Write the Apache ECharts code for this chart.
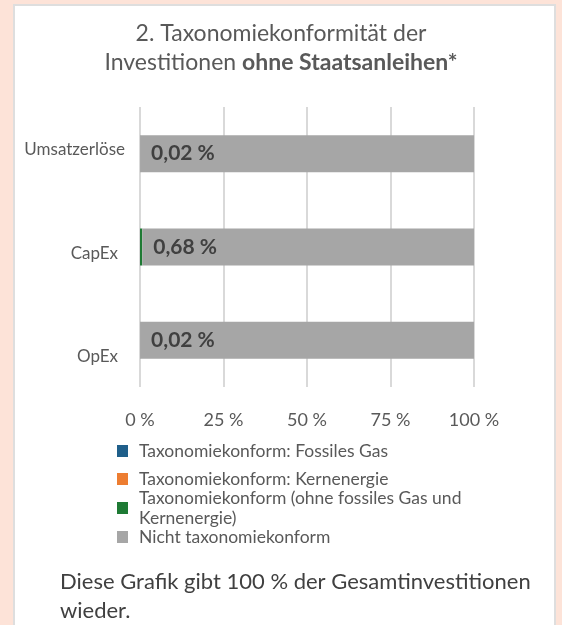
<!DOCTYPE html>
<html>
<head>
<meta charset="utf-8">
<script src="https://cdn.jsdelivr.net/npm/echarts@6/dist/echarts.min.js"></script>
<style>
  html, body { margin: 0; padding: 0; background: #fde3d8; }
  #card { position: absolute; left: 13px; top: 4px; width: 539px; height: 630px; background: #fff; border: 2px solid #dedede; }
  #main { position: absolute; left: 0; top: 0; width: 562px; height: 625px; }
</style>
</head>
<body>
<div id="card"></div>
<div id="main"></div>
<script>
// Daten
var categories = ['Umsatzerlöse', 'CapEx', 'OpEx'];
var fossilGas = [0, 0, 0];
var nuclear = [0, 0, 0];
var aligned = [0.02, 0.68, 0.02];      // Taxonomiekonform (ohne fossiles Gas und Kernenergie)
var notAligned = [99.98, 99.32, 99.98];
var seriesNames = [
  'Taxonomiekonform: Fossiles Gas',
  'Taxonomiekonform: Kernenergie',
  'Taxonomiekonform (ohne fossiles Gas und\nKernenergie)',
  'Nicht taxonomiekonform'
];
var colors = ['#1f5f8a', '#ed7d31', '#1e7a34', '#a6a6a6'];

var font = 'Lato, "Open Sans", sans-serif';
var chartDom = document.getElementById('main');
var myChart = echarts.init(chartDom);

// Kategorielabels leicht versetzt wie im Original
var catRich = {
  c0: { fontSize: 17, color: '#595959', fontFamily: font, padding: [0, 0, 9, 0] },
  c1: { fontSize: 17, color: '#595959', fontFamily: font, padding: [13, 7, 0, 0] },
  c2: { fontSize: 17, color: '#595959', fontFamily: font, padding: [33, 7, 0, 0] }
};

function legendFor(i, top) {
  return {
    data: [seriesNames[i]],
    left: 117,
    top: top,
    padding: 0,
    orient: 'vertical',
    itemWidth: 11,
    itemHeight: 12,
    icon: 'rect',
    itemGap: 0,
    textStyle: { fontSize: 17.5, color: '#595959', fontFamily: font, lineHeight: 20, padding: [0, 0, 0, 6] }
  };
}

var option = {
  animation: false,
  title: [
    {
      text: '{n|2. Taxonomiekonformität der}\n{n|Investitionen }{b|ohne Staatsanleihen*}',
      left: 'center',
      top: 14,
      textStyle: {
        rich: {
          n: { fontSize: 23, color: '#595959', fontFamily: font, fontWeight: 'normal', lineHeight: 29 },
          b: { fontSize: 23, color: '#595959', fontFamily: font, fontWeight: 'bold', lineHeight: 29 }
        }
      }
    },
    {
      text: 'Diese Grafik gibt 100 % der Gesamtinvestitionen\nwieder.',
      left: 55,
      top: 562,
      textStyle: { fontSize: 22, color: '#404040', fontFamily: font, fontWeight: 'normal', lineHeight: 29 }
    }
  ],
  legend: [
    legendFor(0, 441),
    legendFor(1, 469),
    legendFor(2, 488),
    legendFor(3, 527)
  ],
  grid: { left: 140, right: 88, top: 107, height: 280, containLabel: false },
  xAxis: {
    type: 'value',
    min: 0,
    max: 100,
    interval: 25,
    axisLine: { show: false },
    axisTick: { show: false },
    splitLine: { lineStyle: { color: '#d9d9d9', width: 2 } },
    axisLabel: {
      margin: 24,
      fontSize: 18,
      color: '#595959',
      fontFamily: font,
      formatter: '{value} %'
    }
  },
  yAxis: {
    type: 'category',
    inverse: true,
    data: categories,
    axisLine: { show: false },
    axisTick: { show: false },
    axisLabel: {
      margin: 15,
      formatter: function (v, i) { return '{c' + i + '|' + v + '}'; },
      rich: catRich
    }
  },
  series: [
    { name: seriesNames[0], type: 'bar', stack: 'a', barWidth: 37, data: fossilGas, itemStyle: { color: colors[0] } },
    { name: seriesNames[1], type: 'bar', stack: 'a', barWidth: 37, data: nuclear, itemStyle: { color: colors[1] } },
    { name: seriesNames[2], type: 'bar', stack: 'a', barWidth: 37, data: aligned, itemStyle: { color: colors[2] } },
    {
      name: seriesNames[3], type: 'bar', stack: 'a', barWidth: 37, data: notAligned,
      itemStyle: { color: colors[3] },
      label: {
        show: true,
        position: 'insideLeft',
        distance: 11,
        fontSize: 21,
        fontWeight: 'bold',
        color: '#404040',
        fontFamily: font,
        formatter: function (p) {
          return aligned[p.dataIndex].toFixed(2).replace('.', ',') + ' %';
        }
      }
    }
  ]
};

myChart.setOption(option);
</script>
</body>
</html>
